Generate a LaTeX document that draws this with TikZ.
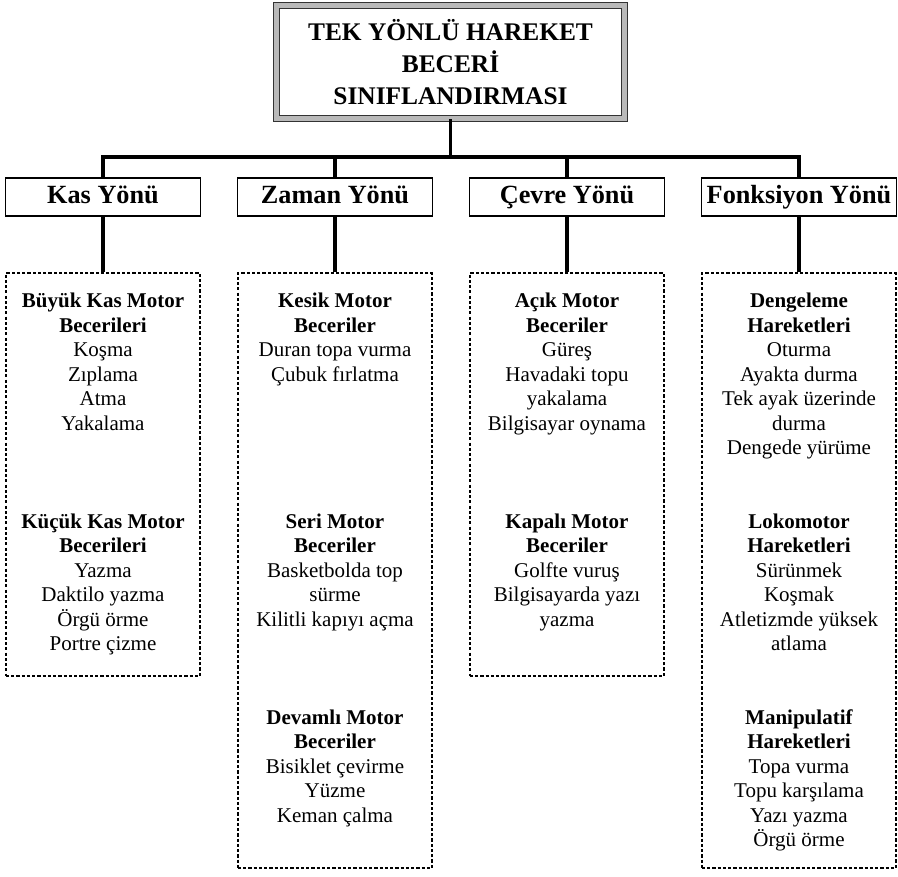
\documentclass[tikz,border=0pt]{standalone}
\usepackage{fontspec}
\setmainfont{Liberation Serif}
\usetikzlibrary{positioning}

\tikzset{
  conn/.style={line width=1.8pt},
  mainbox/.style={draw=black!80, double=gray!55, double distance=2.6pt, line width=0.7pt,
    minimum width=198.9pt, minimum height=64.6pt, align=center,
    font=\fontsize{14.5}{18.3}\selectfont\bfseries},
  headbox/.style={draw, line width=0.6pt, minimum width=110.9pt, minimum height=21.7pt,
    inner sep=0pt, text height=10.5pt, text depth=3pt,
    font=\fontsize{15}{17}\selectfont\bfseries},
  listbox/.style={draw, line width=1.6pt, dash pattern=on 1.8pt off 1.2pt,
    minimum width=110.9pt, inner sep=0pt},
  group/.style={align=center, anchor=north, inner sep=0pt,
    font=\fontsize{12}{14}\selectfont},
}

\begin{document}
\begin{tikzpicture}[x=0.5714pt, y=-0.5714pt]
    \useasboundingbox (0,0) rectangle (898,877);
    % ust kutu
    \node[mainbox] (title) at (450.5,62) {TEK YÖNLÜ HAREKET\\BECERİ\\SINIFLANDIRMASI};
    \coordinate (bus) at (450.5,157);
    % yonler
    \node[headbox] (kas) at (103,197) {Kas Yönü};
    \node[headbox] (zaman) at (335,197) {Zaman Yönü};
    \node[headbox] (cevre) at (567,197) {Çevre Yönü};
    \node[headbox] (fonk) at (799,197) {Fonksiyon Yönü};
    % noktali kutular
    \node[listbox, minimum height=230.3pt] (kas-list) at (103,474.5) {};
    \node[listbox, minimum height=340pt] (zaman-list) at (335,570.5) {};
    \node[listbox, minimum height=230.3pt] (cevre-list) at (567,474.5) {};
    \node[listbox, minimum height=340pt] (fonk-list) at (799,570.5) {};
    % baglantilar
    \draw[conn] (title) -- (bus);
    \foreach \n in {kas,zaman,cevre,fonk}{
      \draw[conn] (\n) |- (bus);
      \draw[conn] (\n) -- (\n-list);
    }
    % kas yonu
    \node[group] (kasA) at (103,290) {\strut\textbf{Büyük Kas Motor}\\\textbf{Becerileri}\\Koşma\\Zıplama\\Atma\\Yakalama};
    \node[group] (kasB) at (103,510.5) {\strut\textbf{Küçük Kas Motor}\\\textbf{Becerileri}\\Yazma\\Daktilo yazma\\Örgü örme\\Portre çizme};
    % zaman yonu
    \node[group] (zamanA) at (335,290) {\strut\textbf{Kesik Motor}\\\textbf{Beceriler}\\Duran topa vurma\\Çubuk fırlatma};
    \node[group] (zamanB) at (335,510.5) {\strut\textbf{Seri Motor}\\\textbf{Beceriler}\\Basketbolda top\\sürme\\Kilitli kapıyı açma};
    \node[group] (zamanC) at (335,706.5) {\strut\textbf{Devamlı Motor}\\\textbf{Beceriler}\\Bisiklet çevirme\\Yüzme\\Keman çalma};
    % cevre yonu
    \node[group] (cevreA) at (567,290) {\strut\textbf{Açık Motor}\\\textbf{Beceriler}\\Güreş\\Havadaki topu\\yakalama\\Bilgisayar oynama};
    \node[group] (cevreB) at (567,510.5) {\strut\textbf{Kapalı Motor}\\\textbf{Beceriler}\\Golfte vuruş\\Bilgisayarda yazı\\yazma};
    % fonksiyon yonu
    \node[group] (fonkA) at (799,290) {\strut\textbf{Dengeleme}\\\textbf{Hareketleri}\\Oturma\\Ayakta durma\\Tek ayak üzerinde\\durma\\Dengede yürüme};
    \node[group] (fonkB) at (799,510.5) {\strut\textbf{Lokomotor}\\\textbf{Hareketleri}\\Sürünmek\\Koşmak\\Atletizmde yüksek\\atlama};
    \node[group] (fonkC) at (799,706.5) {\strut\textbf{Manipulatif}\\\textbf{Hareketleri}\\Topa vurma\\Topu karşılama\\Yazı yazma\\Örgü örme};
\end{tikzpicture}
\end{document}
